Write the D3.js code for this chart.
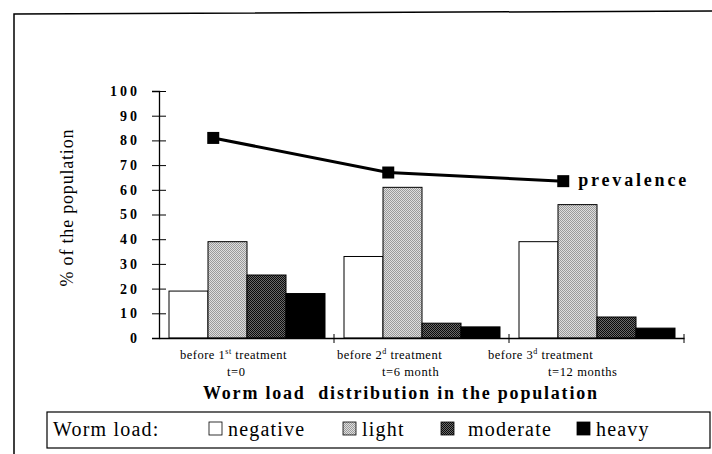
<!DOCTYPE html>
<html>
<head>
<meta charset="utf-8">
<script src="https://cdn.jsdelivr.net/npm/d3@7"></script>
<style>
  body { margin: 0; background: #fff; }
  svg { display: block; font-family: "Liberation Serif", "DejaVu Serif", serif; }
</style>
</head>
<body>
<div id="chart"></div>
<script>
// categories (time points)
const categories = ["t0", "t6", "t12"];
const categoryLine1 = [["before 1", "st", " treatment"], ["before 2", "d", " treatment"], ["before 3", "d", " treatment"]];
const categoryLine2 = ["t=0", "t=6 month", "t=12 months"];

// worm load classes
const series = ["negative", "light", "moderate", "heavy"];
const negative = [19, 33, 39];
const light = [39, 61, 54];
const moderate = [25.5, 6, 8.5];
const heavy = [18, 4.5, 4];
const prevalence = [81, 67, 63.5];

const yTicks = [0, 10, 20, 30, 40, 50, 60, 70, 80, 90, 100];

const W = 712, H = 454;

const svg = d3.select("#chart")
    .append("svg")
    .attr("width", W)
    .attr("height", H);

// fill patterns (dithered look)
const defs = svg.append("defs");
function checker(id, a, b) {
    const p = defs.append("pattern")
        .attr("id", id)
        .attr("width", 2).attr("height", 2)
        .attr("patternUnits", "userSpaceOnUse");
    p.append("rect").attr("width", 2).attr("height", 2).attr("fill", a);
    p.append("rect").attr("width", 1).attr("height", 1).attr("fill", b);
    p.append("rect").attr("x", 1).attr("y", 1).attr("width", 1).attr("height", 1).attr("fill", b);
}
checker("pat-light", "#dedede", "#9a9a9a");
checker("pat-moderate", "#6a6a6a", "#0a0a0a");

const fills = {
    negative: "#ffffff",
    light: "url(#pat-light)",
    moderate: "url(#pat-moderate)",
    heavy: "#000000"
};
const values = { negative, light, moderate, heavy };

// outer frame (only top and left edges are inside the picture)
svg.append("path")
    .attr("d", `M14,${H} L14,14 L${W},11`)
    .attr("fill", "none")
    .attr("stroke", "#000")
    .attr("stroke-width", 1.5);

// scales
const x0 = d3.scaleBand()
    .domain(categories)
    .range([159, 684]);

const x1 = d3.scaleBand()
    .domain(series)
    .range([10, 166]);

const y = d3.scaleLinear()
    .domain([0, 100])
    .range([338, 91]);

// bars
const rows = categories.flatMap((c, i) => series.map(s => ({ cat: c, key: s, value: values[s][i] })));

svg.append("g")
    .selectAll("rect")
    .data(rows)
    .join("rect")
    .attr("x", d => x0(d.cat) + x1(d.key))
    .attr("y", d => y(d.value))
    .attr("width", x1.bandwidth())
    .attr("height", d => y(0) - y(d.value))
    .attr("fill", d => fills[d.key])
    .attr("stroke", "#000")
    .attr("stroke-width", 1);

// y axis with crossing ticks
const yAxis = svg.append("g")
    .attr("transform", "translate(159,0)")
    .call(d3.axisLeft(y).tickValues(yTicks).tickSize(7).tickPadding(12));
yAxis.select(".domain").attr("stroke-width", 1.3);
yAxis.selectAll(".tick line").attr("x1", 7);
yAxis.selectAll(".tick text")
    .style("font-family", "'Liberation Serif', serif")
    .style("font-size", "14px")
    .style("font-weight", "bold")
    .style("letter-spacing", "3px")
    .attr("fill", "#000");

// x axis: line with ticks at category boundaries
const xAxis = svg.append("g")
    .attr("transform", `translate(0,${y(0)})`)
    .call(d3.axisBottom(x0).tickSize(0).tickFormat(""));
xAxis.select(".domain").attr("stroke-width", 1.3);
xAxis.selectAll(".bound")
    .data(categories)
    .join("line")
    .attr("class", "bound")
    .attr("x1", d => x0(d) + x0.bandwidth())
    .attr("x2", d => x0(d) + x0.bandwidth())
    .attr("y1", -4)
    .attr("y2", 5)
    .attr("stroke", "#000");

// category labels (start positions relative to each band)
const line1Start = [21, 3, -21];
const line2Start = [68, 48, 39];
categories.forEach((c, i) => {
    const bx = x0(c);
    const t = svg.append("text")
        .attr("x", bx + line1Start[i])
        .attr("y", 359)
        .style("font-size", "12.5px")
        .style("letter-spacing", "0.5px");
    t.append("tspan").text(categoryLine1[i][0]);
    t.append("tspan").attr("dy", -5).style("font-size", "8px").text(categoryLine1[i][1]);
    t.append("tspan").attr("dy", 5).text(categoryLine1[i][2]);
    svg.append("text")
        .attr("x", bx + line2Start[i])
        .attr("y", 376)
        .style("font-size", "12.5px")
        .style("letter-spacing", "0.6px")
        .text(categoryLine2[i]);
});

// prevalence line
const px = c => x0(c) + x0.bandwidth() * 0.31;
svg.append("path")
    .datum(prevalence)
    .attr("fill", "none")
    .attr("stroke", "#000")
    .attr("stroke-width", 3)
    .attr("d", d3.line().x((d, i) => px(categories[i])).y(d => y(d)));

svg.append("g")
    .selectAll("rect")
    .data(prevalence)
    .join("rect")
    .attr("x", (d, i) => px(categories[i]) - 6)
    .attr("y", d => y(d) - 6)
    .attr("width", 12)
    .attr("height", 12)
    .attr("fill", "#000");

svg.append("text")
    .attr("x", px(categories[2]) + 15)
    .attr("y", y(prevalence[2]) + 5)
    .attr("textLength", 108)
    .attr("lengthAdjust", "spacing")
    .style("font-size", "18px")
    .style("font-weight", "bold")
    .text("prevalence");

// y axis title
svg.append("text")
    .attr("transform", "translate(73,208) rotate(-90)")
    .attr("text-anchor", "middle")
    .attr("textLength", 157)
    .attr("lengthAdjust", "spacing")
    .style("font-size", "18px")
    .text("% of the population");

// x axis title
svg.append("text")
    .attr("x", 203)
    .attr("y", 399)
    .attr("textLength", 394)
    .attr("lengthAdjust", "spacing")
    .style("font-size", "18px")
    .style("font-weight", "bold")
    .style("white-space", "pre")
    .text("Worm load  distribution in the population");

// legend
const legend = svg.append("g");
legend.append("rect")
    .attr("x", 47)
    .attr("y", 412)
    .attr("width", 663)
    .attr("height", 36)
    .attr("fill", "#fff")
    .attr("stroke", "#000")
    .attr("stroke-width", 1.2);

legend.append("text")
    .attr("x", 53)
    .attr("y", 436)
    .style("font-size", "20px")
    .style("letter-spacing", "1.2px")
    .text("Worm load:");

const legendX = [209, 343, 441, 577];
const legendTextX = [228, 362, 468, 596];
series.forEach((s, i) => {
    legend.append("rect")
        .attr("x", legendX[i])
        .attr("y", 422)
        .attr("width", 13)
        .attr("height", 13)
        .attr("fill", fills[s])
        .attr("stroke", "#000")
        .attr("stroke-width", 0.8);
    legend.append("text")
        .attr("x", legendTextX[i])
        .attr("y", 436)
        .style("font-size", "20px")
        .style("letter-spacing", "1.2px")
        .text(s);
});
</script>
</body>
</html>
